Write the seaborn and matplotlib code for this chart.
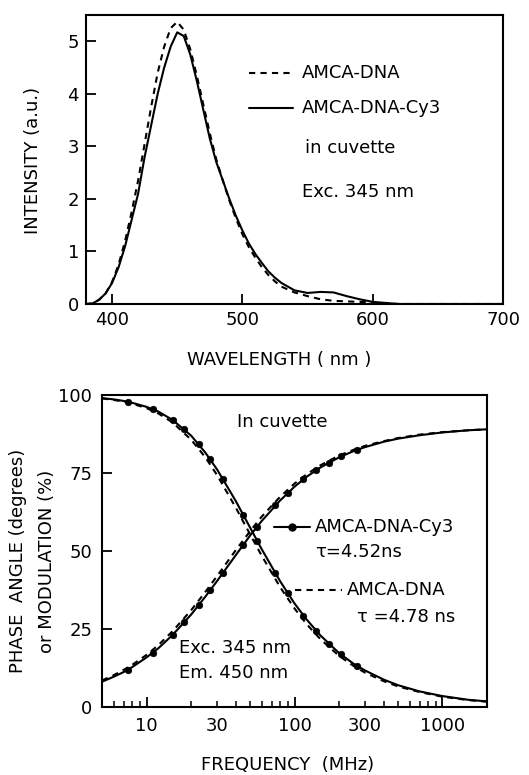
import matplotlib
matplotlib.use("Agg")
import matplotlib.pyplot as plt
from matplotlib.lines import Line2D
from matplotlib.ticker import FixedLocator, FuncFormatter, LogLocator
import seaborn as sns

# --- top panel: emission spectra (Exc. 345 nm) ---
wavelength = [380, 385, 390, 395, 400, 405, 410, 415, 420, 425, 430, 435, 440, 445,
              450, 455, 460, 465, 470, 475, 480, 485, 490, 495, 500, 505, 510, 515,
              520, 525, 530, 540, 550, 560, 570, 580, 590, 600, 610, 620, 700]
int_amca_dna = [0.0, 0.01, 0.08, 0.2, 0.42, 0.75, 1.2, 1.75, 2.35, 3.05, 3.75, 4.4, 4.9, 5.25,
                5.37, 5.22, 4.85, 4.35, 3.8, 3.25, 2.75, 2.35, 1.97, 1.63, 1.33, 1.08, 0.88, 0.7,
                0.55, 0.43, 0.33, 0.22, 0.15, 0.09, 0.06, 0.05, 0.04, 0.03, 0.01, 0.0, 0.0]
int_amca_dna_cy3 = [0.0, 0.01, 0.08, 0.2, 0.4, 0.7, 1.1, 1.6, 2.1, 2.8, 3.4, 4.0, 4.5, 4.9,
                    5.17, 5.1, 4.75, 4.25, 3.7, 3.15, 2.7, 2.35, 2.0, 1.68, 1.4, 1.15, 0.95, 0.78,
                    0.62, 0.5, 0.4, 0.26, 0.21, 0.23, 0.22, 0.15, 0.09, 0.04, 0.02, 0.0, 0.0]

# --- bottom panel: phase / modulation vs frequency ---
freq_fit = [5, 6, 7, 8, 10, 12, 15, 20, 25, 30, 40, 50, 60, 80, 100, 120, 150, 200,
            250, 300, 400, 500, 700, 1000, 1500, 2000]
phase_cy3 = [8.1, 9.7, 11.2, 12.8, 15.9, 18.8, 23.1, 29.6, 35.4, 40.4, 48.6, 54.9, 59.6,
             66.2, 70.6, 73.7, 76.8, 80.0, 82.0, 83.3, 85.0, 86.0, 87.1, 88.0, 88.7, 89.0]
mod_cy3 = [99.0, 98.6, 98.1, 97.5, 96.2, 94.7, 92.0, 87.0, 81.5, 76.1, 66.1, 57.6, 50.6,
           40.3, 33.2, 28.2, 22.9, 17.3, 13.9, 11.7, 8.8, 7.0, 5.0, 3.5, 2.3, 1.8]
phase_dna = [8.5, 10.2, 11.9, 13.5, 16.7, 19.8, 24.3, 31.0, 36.9, 42.0, 50.2, 56.3, 61.0,
             67.4, 71.6, 74.5, 77.5, 80.6, 82.4, 83.7, 85.2, 86.2, 87.3, 88.1, 88.7, 89.0]
mod_dna = [98.9, 98.4, 97.9, 97.2, 95.8, 94.1, 91.2, 85.7, 80.0, 74.3, 64.0, 55.4, 48.5,
           38.4, 31.6, 26.7, 21.7, 16.4, 13.2, 11.0, 8.3, 6.6, 4.8, 3.3, 2.2, 1.7]

freq_pts = [7.5, 11, 15, 18, 22.5, 27, 33, 45, 56, 74, 90, 115, 140, 170, 205, 265]
phase_pts = [12.0, 17.4, 23.1, 27.1, 32.6, 37.5, 43.1, 52.0, 57.8, 64.6, 68.6, 73.0,
             75.9, 78.3, 80.3, 82.4]
mod_pts = [97.8, 95.5, 92.0, 89.0, 84.3, 79.4, 73.0, 61.6, 53.2, 43.0, 36.4, 29.3,
           24.4, 20.3, 16.9, 13.2]

sns.set_style("ticks", {"axes.edgecolor": "black", "text.color": "black",
                        "axes.labelcolor": "black", "xtick.color": "black",
                        "ytick.color": "black"})
plt.rcParams['font.family'] = ['DejaVu Sans']
FS = 13
DASH = (0, (3, 2.5))
LW = 1.5

W, H = 529, 775
fig = plt.figure(figsize=(W / 100, H / 100), dpi=100)


def px(x, y):
    return x / W, 1 - y / H


ax1 = fig.add_axes([86 / W, 1 - 304 / H, 417 / W, 289 / H])
ax2 = fig.add_axes([102 / W, 1 - 707 / H, 385 / W, 312 / H])

# top panel
sns.lineplot(x=wavelength, y=int_amca_dna, ax=ax1, color='k', lw=LW, linestyle=DASH,
             estimator=None, sort=False)
sns.lineplot(x=wavelength, y=int_amca_dna_cy3, ax=ax1, color='k', lw=LW,
             estimator=None, sort=False)
ax1.set_xlim(380, 700)
ax1.set_ylim(0, 5.5)
ax1.set_xticks([400, 500, 600, 700])
ax1.set_yticks([0, 1, 2, 3, 4, 5])
ax1.tick_params(direction='in', length=7, width=1.3, labelsize=FS, pad=5, colors='k')

ax1.add_line(Line2D([0.391, 0.496], [0.799, 0.799], transform=ax1.transAxes,
                    color='k', lw=LW, linestyle=DASH))
ax1.add_line(Line2D([0.391, 0.496], [0.678, 0.678], transform=ax1.transAxes,
                    color='k', lw=LW))
ax1.text(0.518, 0.799, "AMCA-DNA", transform=ax1.transAxes, fontsize=FS, va='center')
ax1.text(0.518, 0.678, "AMCA-DNA-Cy3", transform=ax1.transAxes, fontsize=FS, va='center')
ax1.text(0.525, 0.54, "in cuvette", transform=ax1.transAxes, fontsize=FS, va='center')
ax1.text(0.518, 0.388, "Exc. 345 nm", transform=ax1.transAxes, fontsize=FS, va='center')

fig.text(*px(33, 160), "INTENSITY (a.u.)", rotation=90, fontsize=FS,
         ha='center', va='center')
fig.text(*px(279, 360), "WAVELENGTH ( nm )", fontsize=FS, ha='center', va='center')

# bottom panel
sns.lineplot(x=freq_fit, y=phase_dna, ax=ax2, color='k', lw=LW, linestyle=DASH,
             estimator=None, sort=False)
sns.lineplot(x=freq_fit, y=mod_dna, ax=ax2, color='k', lw=LW, linestyle=DASH,
             estimator=None, sort=False)
sns.lineplot(x=freq_fit, y=phase_cy3, ax=ax2, color='k', lw=LW,
             estimator=None, sort=False)
sns.lineplot(x=freq_fit, y=mod_cy3, ax=ax2, color='k', lw=LW,
             estimator=None, sort=False)
sns.scatterplot(x=freq_pts + freq_pts, y=phase_pts + mod_pts, ax=ax2, color='k',
                s=22, edgecolor='k', linewidth=0.5, zorder=5)
ax2.set_xscale('log')
ax2.set_xlim(5, 2000)
ax2.set_ylim(0, 100)
ax2.set_yticks([0, 25, 50, 75, 100])
ax2.xaxis.set_major_locator(FixedLocator([10, 100, 1000]))
ax2.xaxis.set_major_formatter(FuncFormatter(lambda v, p: f"{v:g}"))
ax2.xaxis.set_minor_locator(LogLocator(base=10, subs=range(2, 10), numticks=20))
ax2.xaxis.set_minor_formatter(
    FuncFormatter(lambda v, p: f"{v:g}" if round(v) in (30, 300) else ""))
ax2.tick_params(which='major', direction='in', length=7, width=1.3, labelsize=FS,
                pad=7, colors='k')
ax2.tick_params(which='minor', direction='in', length=4, width=1.1, labelsize=FS,
                pad=7, colors='k')

ax2.add_line(Line2D([0.447, 0.540], [0.577, 0.577], transform=ax2.transAxes,
                    color='k', lw=LW))
ax2.add_line(Line2D([0.494], [0.577], transform=ax2.transAxes, color='k',
                    marker='o', markersize=5))
ax2.text(0.553, 0.577, "AMCA-DNA-Cy3", transform=ax2.transAxes, fontsize=FS, va='center')
ax2.text(0.553, 0.497, "τ=4.52ns", transform=ax2.transAxes, fontsize=FS, va='center')
ax2.add_line(Line2D([0.501, 0.623], [0.375, 0.375], transform=ax2.transAxes,
                    color='k', lw=LW, linestyle=DASH))
ax2.text(0.636, 0.375, "AMCA-DNA", transform=ax2.transAxes, fontsize=FS, va='center')
ax2.text(0.662, 0.288, "τ =4.78 ns", transform=ax2.transAxes, fontsize=FS, va='center')
ax2.text(0.351, 0.913, "In cuvette", transform=ax2.transAxes, fontsize=FS, va='center')
ax2.text(0.2, 0.189, "Exc. 345 nm", transform=ax2.transAxes, fontsize=FS, va='center')
ax2.text(0.2, 0.109, "Em. 450 nm", transform=ax2.transAxes, fontsize=FS, va='center')

fig.text(*px(18, 561), "PHASE  ANGLE (degrees)", rotation=90, fontsize=FS,
         ha='center', va='center')
fig.text(*px(47, 561), "or MODULATION (%)", rotation=90, fontsize=FS,
         ha='center', va='center')
fig.text(*px(288, 765), "FREQUENCY  (MHz)", fontsize=FS, ha='center', va='center')

for ax in (ax1, ax2):
    for s in ax.spines.values():
        s.set_linewidth(1.5)
        s.set_color('k')

fig.savefig("out.png", dpi=100)
